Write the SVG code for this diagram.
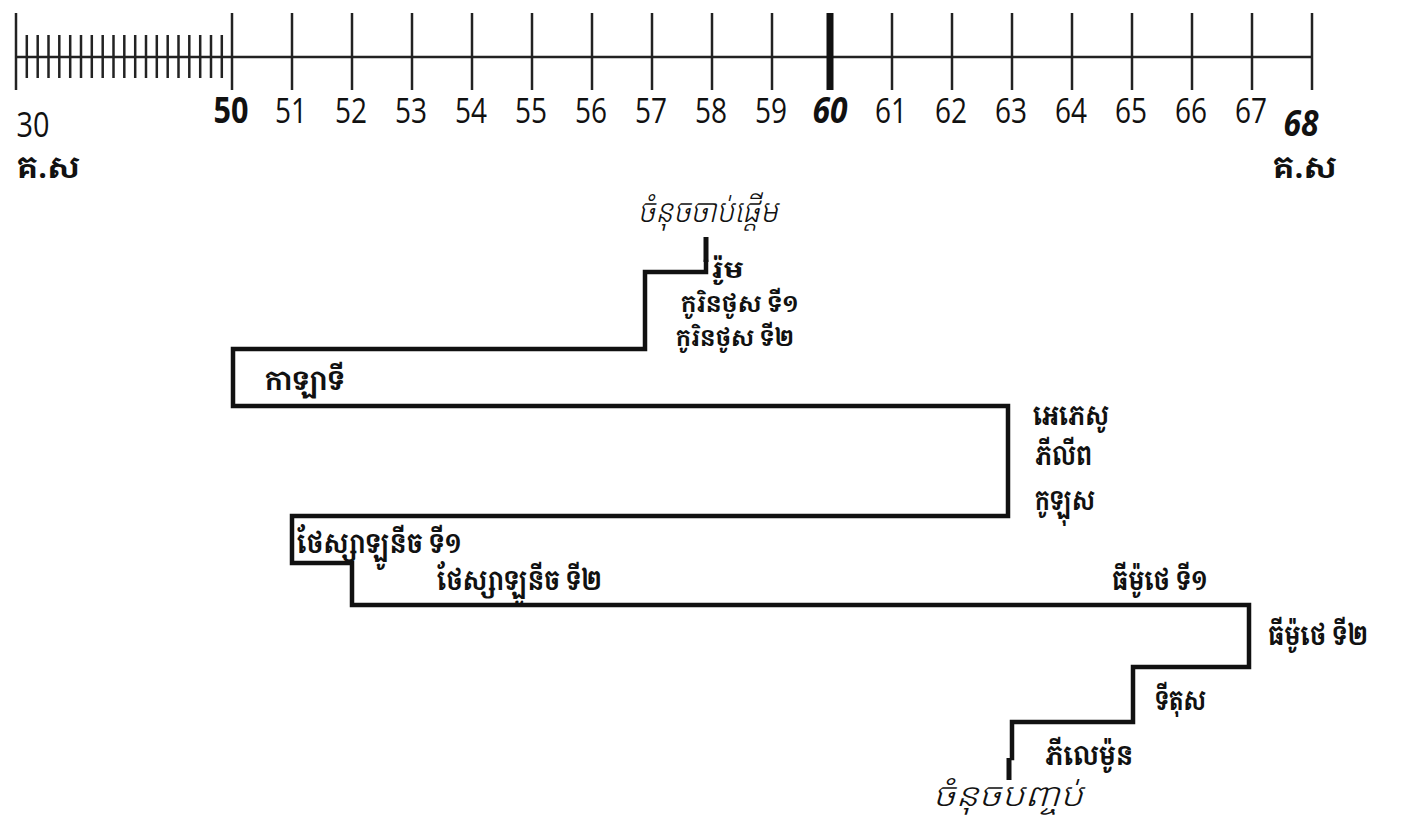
<svg xmlns="http://www.w3.org/2000/svg" width="1402" height="825" viewBox="0 0 1402 825">
<defs>
<style>
.axis{stroke:#222;stroke-width:2.5;fill:none}
.tick{stroke:#222;stroke-width:2.5}
.minor{stroke:#222;stroke-width:2.5}
.num{font-family:"Open Sans","Liberation Sans",sans-serif;font-size:35px;font-weight:normal;fill:#111;text-anchor:middle}
.num.b{font-weight:bold}
.num.bi{font-weight:bold;font-style:italic}
.kb{font-family:"Noto Serif Khmer","Noto Sans Khmer","Khmer OS","Noto Sans",serif;font-weight:bold;font-size:27px;fill:#111}
.kb.big{font-size:30px}
.kb.tight{font-size:23px}
.ki{font-family:"Noto Sans Khmer","Khmer OS","Noto Sans",sans-serif;font-style:italic;font-weight:300;font-size:32px;fill:#111;text-anchor:middle}
.route{stroke:#111;stroke-width:4.5;fill:none;stroke-linejoin:miter;stroke-linecap:square}
.mark{stroke:#111;stroke-width:5}
</style>
</defs>
<rect width="1402" height="825" fill="#fff"/>
<g id="timeline">
<line class="axis" x1="15" y1="57" x2="1312" y2="57"/>
<line class="tick" x1="16" y1="13" x2="16" y2="90"/>
<g class="minor">
<line x1="26.8" y1="35" x2="26.8" y2="78"/><line x1="37.7" y1="35" x2="37.7" y2="78"/><line x1="48.5" y1="35" x2="48.5" y2="78"/><line x1="59.3" y1="35" x2="59.3" y2="78"/><line x1="70.2" y1="35" x2="70.2" y2="78"/><line x1="81" y1="35" x2="81" y2="78"/><line x1="91.8" y1="35" x2="91.8" y2="78"/><line x1="102.7" y1="35" x2="102.7" y2="78"/><line x1="113.5" y1="35" x2="113.5" y2="78"/><line x1="124.3" y1="35" x2="124.3" y2="78"/><line x1="135.2" y1="35" x2="135.2" y2="78"/><line x1="146" y1="35" x2="146" y2="78"/><line x1="156.8" y1="35" x2="156.8" y2="78"/><line x1="167.7" y1="35" x2="167.7" y2="78"/><line x1="178.5" y1="35" x2="178.5" y2="78"/><line x1="189.3" y1="35" x2="189.3" y2="78"/><line x1="200.2" y1="35" x2="200.2" y2="78"/><line x1="211" y1="35" x2="211" y2="78"/><line x1="221.8" y1="35" x2="221.8" y2="78"/>
</g>
<g class="tick">
<line x1="232" y1="13" x2="232" y2="90"/><line x1="292" y1="13" x2="292" y2="90"/><line x1="352" y1="13" x2="352" y2="90"/><line x1="412" y1="13" x2="412" y2="90"/><line x1="472" y1="13" x2="472" y2="90"/><line x1="532" y1="13" x2="532" y2="90"/><line x1="592" y1="13" x2="592" y2="90"/><line x1="652" y1="13" x2="652" y2="90"/><line x1="712" y1="13" x2="712" y2="90"/><line x1="772" y1="13" x2="772" y2="90"/><line x1="892" y1="13" x2="892" y2="90"/><line x1="952" y1="13" x2="952" y2="90"/><line x1="1012" y1="13" x2="1012" y2="90"/><line x1="1072" y1="13" x2="1072" y2="90"/><line x1="1132" y1="13" x2="1132" y2="90"/><line x1="1192" y1="13" x2="1192" y2="90"/><line x1="1252" y1="13" x2="1252" y2="90"/><line x1="1312" y1="13" x2="1312" y2="90"/>
</g>
<line x1="830" y1="13" x2="830" y2="90" stroke="#111" stroke-width="7"/>
<text class="num" x="33" y="137" textLength="33" lengthAdjust="spacingAndGlyphs">30</text>
<text class="num b" x="231" y="123" textLength="35" lengthAdjust="spacingAndGlyphs">50</text>
<text class="num" x="291" y="123" textLength="32" lengthAdjust="spacingAndGlyphs">51</text>
<text class="num" x="351" y="123" textLength="32" lengthAdjust="spacingAndGlyphs">52</text>
<text class="num" x="411" y="123" textLength="32" lengthAdjust="spacingAndGlyphs">53</text>
<text class="num" x="471" y="123" textLength="32" lengthAdjust="spacingAndGlyphs">54</text>
<text class="num" x="531" y="123" textLength="32" lengthAdjust="spacingAndGlyphs">55</text>
<text class="num" x="591" y="123" textLength="32" lengthAdjust="spacingAndGlyphs">56</text>
<text class="num" x="651" y="123" textLength="32" lengthAdjust="spacingAndGlyphs">57</text>
<text class="num" x="711" y="123" textLength="32" lengthAdjust="spacingAndGlyphs">58</text>
<text class="num" x="771" y="123" textLength="32" lengthAdjust="spacingAndGlyphs">59</text>
<text class="num bi" x="830" y="123" textLength="35" lengthAdjust="spacingAndGlyphs">60</text>
<text class="num" x="891" y="123" textLength="32" lengthAdjust="spacingAndGlyphs">61</text>
<text class="num" x="951" y="123" textLength="32" lengthAdjust="spacingAndGlyphs">62</text>
<text class="num" x="1011" y="123" textLength="32" lengthAdjust="spacingAndGlyphs">63</text>
<text class="num" x="1071" y="123" textLength="32" lengthAdjust="spacingAndGlyphs">64</text>
<text class="num" x="1131" y="123" textLength="32" lengthAdjust="spacingAndGlyphs">65</text>
<text class="num" x="1191" y="123" textLength="32" lengthAdjust="spacingAndGlyphs">66</text>
<text class="num" x="1251" y="123" textLength="32" lengthAdjust="spacingAndGlyphs">67</text>
<text class="num bi" x="1301" y="136" textLength="35" lengthAdjust="spacingAndGlyphs">68</text>
<text class="kb big" x="17" y="178" textLength="63" lengthAdjust="spacingAndGlyphs">គ.ស</text>
<text class="kb big" x="1273" y="178" textLength="64" lengthAdjust="spacingAndGlyphs">គ.ស</text>
</g>
<g id="connectors">
<polyline class="route" points="706,262 706,272 645,272 645,349 233,349 233,406 1008,406 1008,516 292,516 292,563 352,563 352,605 1249,605 1249,667 1133,667 1133,722 1012,722 1012,758"/>
<line class="mark" x1="706" y1="237" x2="706" y2="262"/>
<line class="mark" x1="1009" y1="758" x2="1009" y2="780"/>
</g>
<g id="start"><text class="ki" x="708" y="222" textLength="140" lengthAdjust="spacingAndGlyphs">ចំនុចចាប់ផ្តើម</text></g>
<g id="end"><text class="ki" x="1008" y="806" textLength="150" lengthAdjust="spacingAndGlyphs">ចំនុចបញ្ចប់</text></g>
<g id="rome"><text class="kb tight" x="711" y="278" textLength="33" lengthAdjust="spacingAndGlyphs">រ៉ូម</text></g>
<g id="cor1"><text class="kb tight" x="681" y="312" textLength="118" lengthAdjust="spacingAndGlyphs">កូរិនថូស ទី១</text></g>
<g id="cor2"><text class="kb tight" x="676" y="346" textLength="118" lengthAdjust="spacingAndGlyphs">កូរិនថូស ទី២</text></g>
<g id="gal"><text class="kb" x="265" y="390" textLength="80" lengthAdjust="spacingAndGlyphs">កាឡាទី</text></g>
<g id="eph"><text class="kb" x="1033" y="425" textLength="76" lengthAdjust="spacingAndGlyphs">អេភេសូ</text></g>
<g id="phil"><text class="kb" x="1035" y="465" textLength="57" lengthAdjust="spacingAndGlyphs">ភីលីព</text></g>
<g id="col"><text class="kb" x="1035" y="510" textLength="60" lengthAdjust="spacingAndGlyphs">កូឡុស</text></g>
<g id="thes1"><text class="kb" x="297" y="553" textLength="165" lengthAdjust="spacingAndGlyphs">ថែស្សាឡូនីច ទី១</text></g>
<g id="thes2"><text class="kb" x="437" y="590" textLength="165" lengthAdjust="spacingAndGlyphs">ថែស្សាឡូនីច ទី២</text></g>
<g id="tim1"><text class="kb" x="1112" y="590" textLength="96" lengthAdjust="spacingAndGlyphs">ធីម៉ូថេ ទី១</text></g>
<g id="tim2"><text class="kb" x="1268" y="645" textLength="100" lengthAdjust="spacingAndGlyphs">ធីម៉ូថេ ទី២</text></g>
<g id="titus"><text class="kb" x="1155" y="710" textLength="51" lengthAdjust="spacingAndGlyphs">ទីតុស</text></g>
<g id="philemon"><text class="kb" x="1045" y="765" textLength="88" lengthAdjust="spacingAndGlyphs">ភីលេម៉ូន</text></g>
</svg>
